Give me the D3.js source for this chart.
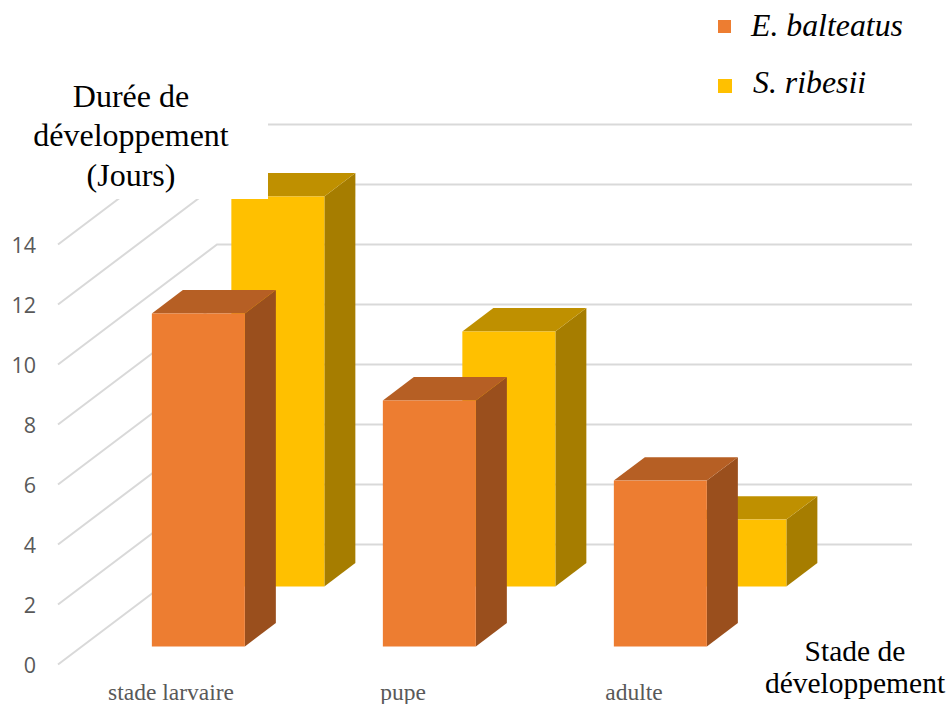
<!DOCTYPE html>
<html><head><meta charset="utf-8">
<script src="https://cdn.jsdelivr.net/npm/d3@7"></script>
<style>html,body{margin:0;padding:0;background:#fff}svg{display:block}</style>
</head><body><svg id="c" width="949" height="704"></svg>
<script>
const categories = ["stade larvaire", "pupe", "adulte"];
const seriesNames = ["S. ribesii", "E. balteatus"];
const ribesii = [13, 8.5, 2.23];
const balteatus = [11.1, 8.2, 5.53];
const yTicks = [0, 2, 4, 6, 8, 10, 12, 14];
const frontColors = ["#FFC000", "#ED7D31"];
const topColors = ["#BF9000", "#B65F24"];
const sideColors = ["#A67D00", "#9A4F1D"];
const seriesDepths = [0.65, 0.15];
const barDepth = 0.195;

const svg = d3.select("#c");
const serif = "'Liberation Serif','Times New Roman',serif";
const y = d3.scaleLinear().domain([0, 14]).range([664.5, 244.5]);
const depthX = d3.scaleLinear().domain([0, 1]).range([0, 159]);
const depthY = d3.scaleLinear().domain([0, 1]).range([0, -120]);
const x0 = d3.scalePoint().domain(categories).range([128, 590]);
const barW = 93;

// gridlines
const grid = svg.append("g").attr("stroke", "#D9D9D9").attr("stroke-width", 2).attr("fill", "none");
yTicks.forEach(v => {
  grid.append("path").attr("d", d3.line()([
    [58, y(v)],
    [58 + depthX(1), y(v) + depthY(1)],
    [912, y(v) + depthY(1)]
  ]));
});

// bars (back series first)
[ribesii, balteatus].forEach((vals, s) => {
  const g = svg.append("g");
  vals.forEach((v, i) => {
    const l = x0(categories[i]) + depthX(seriesDepths[s]);
    const r = l + barW;
    const b = y(0) + depthY(seriesDepths[s]);
    const t = b - (y(0) - y(v));
    const dx = depthX(barDepth), dy = depthY(barDepth);
    g.append("polygon").attr("fill", sideColors[s])
      .attr("points", [[r, t], [r + dx, t + dy], [r + dx, b + dy], [r, b]].join(" "));
    g.append("polygon").attr("fill", topColors[s])
      .attr("points", [[l, t], [l + dx, t + dy], [r + dx, t + dy], [r, t]].join(" "));
    g.append("rect").attr("fill", frontColors[s])
      .attr("x", l).attr("y", t).attr("width", barW).attr("height", b - t);
  });
});

// white text box over the chart
svg.append("rect").attr("x", 0).attr("y", 0).attr("width", 268).attr("height", 199).attr("fill", "#fff");

// y tick labels
svg.append("g").selectAll("text").data(yTicks).join("text")
  .attr("x", 36).attr("y", d => y(d) + 8).attr("text-anchor", "end")
  .attr("font-family", "'Open Sans',sans-serif").attr("font-size", 21.5).attr("fill", "#595959")
  .text(d => d);

// category labels
const catCenters = [171, 403, 634];
svg.append("g").selectAll("text").data(categories).join("text")
  .attr("x", (d, i) => catCenters[i]).attr("y", 700).attr("text-anchor", "middle")
  .attr("font-family", serif).attr("font-size", 23.5).attr("fill", "#595959")
  .text(d => d);

// axis titles
const yTitle = ["Durée de", "développement", "(Jours)"];
const yTitleBase = [107, 146, 186];
svg.append("g").selectAll("text").data(yTitle).join("text")
  .attr("x", 131).attr("y", (d, i) => yTitleBase[i]).attr("text-anchor", "middle")
  .attr("font-family", serif).attr("font-size", 32).attr("fill", "#000").text(d => d);
const xTitle = ["Stade de", "développement"];
const xTitleBase = [661, 693];
svg.append("g").selectAll("text").data(xTitle).join("text")
  .attr("x", 855).attr("y", (d, i) => xTitleBase[i]).attr("text-anchor", "middle")
  .attr("font-family", serif).attr("font-size", 29.5).attr("fill", "#000").text(d => d);

// legend
const legendNames = ["E. balteatus", "S. ribesii"];
const legendColors = ["#ED7D31", "#FFC000"];
const legendText = [[751, 36], [753, 93]];
const legendBox = [[718, 20, 13, 13], [718, 79, 14, 14]];
const lg = svg.append("g");
legendNames.forEach((n, i) => {
  lg.append("rect").attr("x", legendBox[i][0]).attr("y", legendBox[i][1])
    .attr("width", legendBox[i][2]).attr("height", legendBox[i][3]).attr("fill", legendColors[i]);
  lg.append("text").attr("x", legendText[i][0]).attr("y", legendText[i][1])
    .attr("font-family", serif).attr("font-style", "italic").attr("font-size", 31.8)
    .attr("fill", "#000").text(n);
});
</script></body></html>
